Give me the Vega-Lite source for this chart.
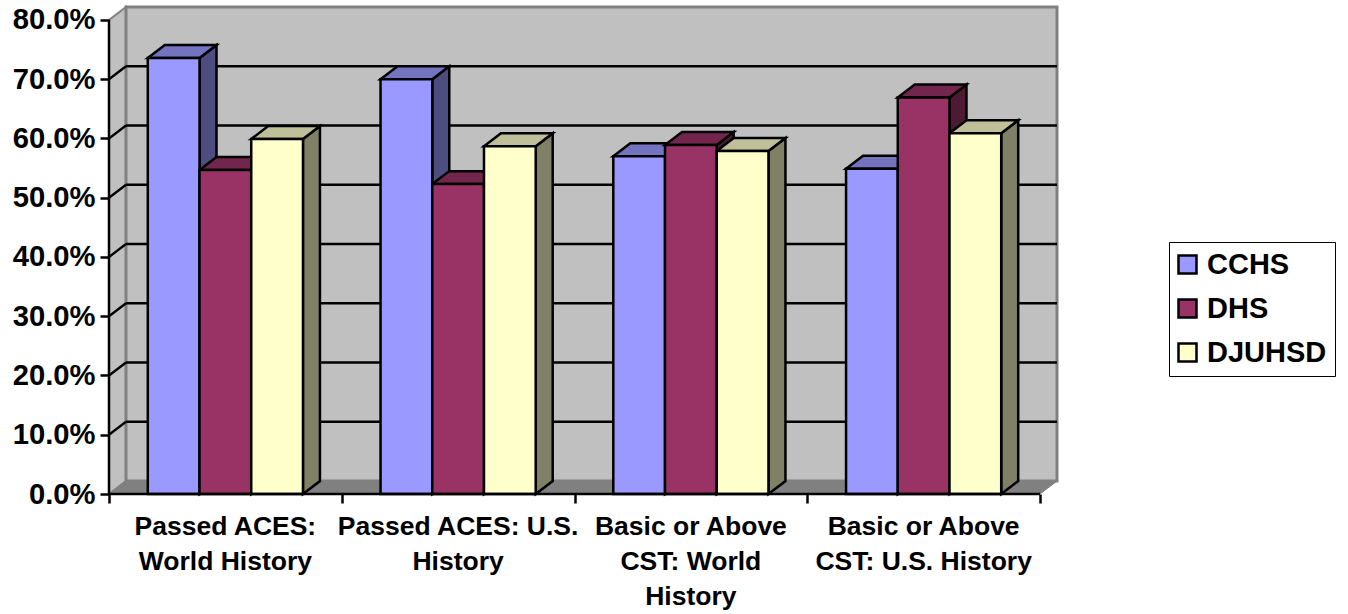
{
"$schema":"https://vega.github.io/schema/vega-lite/v6.json",
"width":949,"height":487,
"autosize":"none",
"padding":{"left":109,"top":7,"right":290,"bottom":120},
"background":"white",
"config":{"view":{"stroke":null},"font":"Liberation Sans"},
"data":{"values":[
{"category":"Passed ACES:\nWorld History","series":"CCHS","value":0.736},
{"category":"Passed ACES:\nWorld History","series":"DHS","value":0.547},
{"category":"Passed ACES:\nWorld History","series":"DJUHSD","value":0.599},
{"category":"Passed ACES: U.S.\nHistory","series":"CCHS","value":0.700},
{"category":"Passed ACES: U.S.\nHistory","series":"DHS","value":0.523},
{"category":"Passed ACES: U.S.\nHistory","series":"DJUHSD","value":0.587},
{"category":"Basic or Above\nCST: World\nHistory","series":"CCHS","value":0.570},
{"category":"Basic or Above\nCST: World\nHistory","series":"DHS","value":0.589},
{"category":"Basic or Above\nCST: World\nHistory","series":"DJUHSD","value":0.579},
{"category":"Basic or Above\nCST: U.S. History","series":"CCHS","value":0.549},
{"category":"Basic or Above\nCST: U.S. History","series":"DHS","value":0.669},
{"category":"Basic or Above\nCST: U.S. History","series":"DJUHSD","value":0.609}
]},
"transform":[
{"calculate":"indexof(['Passed ACES:\\nWorld History','Passed ACES: U.S.\\nHistory','Basic or Above\\nCST: World\\nHistory','Basic or Above\\nCST: U.S. History'],datum.category)","as":"i"},
{"calculate":"indexof(['CCHS','DHS','DJUHSD'],datum.series)","as":"s"},
{"calculate":"datum.i+(0.75+datum.s)/4.5","as":"l"},
{"calculate":"datum.l+1/4.5","as":"r"}
],
"encoding":{
"x":{"field":"px","type":"quantitative","scale":{"domain":[0,4.0773],"nice":false,"zero":false},"title":null,
"axis":{"values":[0,1,2,3,4],"labels":false,"domain":false,"grid":false,"ticks":true,"tickSize":9,"tickWidth":2.5,"tickColor":"black","title":null,"zindex":1}},
"y":{"field":"py","type":"quantitative","stack":null,"scale":{"domain":[0,0.8219],"nice":false,"zero":false},"title":null,
"axis":{"values":[0,0.1,0.2,0.3,0.4,0.5,0.6,0.7,0.8],"format":".1%","domain":false,"grid":false,"tickSize":9,"tickWidth":2.5,"tickColor":"black","labelFont":"Liberation Sans","labelFontWeight":"bold","labelFontSize":29.2,"labelColor":"black","labelPadding":5,"title":null,"zindex":1}}
},
"layer":[
{"data":{"values":[{"edge":0},{"edge":1}]},
"transform":[{"calculate":"datum.edge*0.073","as":"px"},{"calculate":"datum.edge*0.0219","as":"py"},{"calculate":"0.8+datum.edge*0.0219","as":"py2"}],
"mark":{"type":"area","orient":"vertical","fill":"#C0C0C0","stroke":"#808080","strokeWidth":2},
"encoding":{"y2":{"field":"py2"}}},
{"data":{"values":[{"part":"wall"}]},
"transform":[{"calculate":"0.073","as":"px"},{"calculate":"4.073","as":"px2"},{"calculate":"0.0219","as":"py"},{"calculate":"0.8219","as":"py2"}],
"mark":{"type":"rect","fill":"#C0C0C0","stroke":"#808080","strokeWidth":3},
"encoding":{"x2":{"field":"px2"},"y2":{"field":"py2"}}},
{"data":{"values":[{"corner":0},{"corner":1},{"corner":2},{"corner":3}]},
"transform":[
{"calculate":"datum.corner==0?0:datum.corner==1?0.073:datum.corner==2?4:4.073","as":"px"},
{"calculate":"datum.corner==3?0.0219:0","as":"py"},
{"calculate":"datum.corner==0?0:0.0219","as":"py2"}],
"mark":{"type":"area","orient":"vertical","fill":"#808080","stroke":"#808080","strokeWidth":1},
"encoding":{"y2":{"field":"py2"}}},
{"data":{"values":[{"tick":0.1},{"tick":0.2},{"tick":0.3},{"tick":0.4},{"tick":0.5},{"tick":0.6},{"tick":0.7}]},
"transform":[{"calculate":"0.073","as":"px"},{"calculate":"4.073","as":"px2"},{"calculate":"datum.tick+0.0219","as":"py"}],
"mark":{"type":"rule","color":"black","strokeWidth":2.3},
"encoding":{"x2":{"field":"px2"}}},
{"data":{"values":[{"tick":0.1},{"tick":0.2},{"tick":0.3},{"tick":0.4},{"tick":0.5},{"tick":0.6},{"tick":0.7}]},
"transform":[{"calculate":"0","as":"px"},{"calculate":"0.073","as":"px2"},{"calculate":"datum.tick","as":"py"},{"calculate":"datum.tick+0.0219","as":"py2"}],
"mark":{"type":"rule","color":"black","strokeWidth":2.3},
"encoding":{"x2":{"field":"px2"},"y2":{"field":"py2"}}},
{"transform":[
{"calculate":"[0,1]","as":"k"},{"flatten":["k"]},
{"calculate":"datum.r+datum.k*0.073","as":"px"},
{"calculate":"datum.k*0.0219","as":"py"},
{"calculate":"datum.value+datum.k*0.0219","as":"py2"}],
"mark":{"type":"area","orient":"vertical","stroke":"black","strokeWidth":2.5},
"encoding":{"y2":{"field":"py2"},"detail":{"field":"category"},
"color":{"field":"series","type":"nominal","legend":null,"scale":{"domain":["CCHS","DHS","DJUHSD"],"range":["#4D4D80","#4D1A33","#808066"]}}}},
{"transform":[
{"calculate":"[0,1,2,3]","as":"k"},{"flatten":["k"]},
{"calculate":"datum.k==0?datum.l:datum.k==1?datum.l+0.073:datum.k==2?datum.r:datum.r+0.073","as":"px"},
{"calculate":"datum.k==3?datum.value+0.0219:datum.value","as":"py"},
{"calculate":"datum.k==0?datum.value:datum.value+0.0219","as":"py2"}],
"mark":{"type":"area","orient":"vertical","stroke":"black","strokeWidth":2.5},
"encoding":{"y2":{"field":"py2"},"detail":{"field":"category"},
"color":{"field":"series","type":"nominal","legend":null,"scale":{"domain":["CCHS","DHS","DJUHSD"],"range":["#7373BF","#73264D","#BFBF99"]}}}},
{"transform":[{"calculate":"datum.l","as":"px"},{"calculate":"datum.r","as":"px2"},{"calculate":"datum.value","as":"py"},{"calculate":"0","as":"py2"}],
"mark":{"type":"rect","stroke":"black","strokeWidth":2.5},
"encoding":{"x2":{"field":"px2"},"y2":{"field":"py2"},
"color":{"field":"series","type":"nominal","scale":{"domain":["CCHS","DHS","DJUHSD"],"range":["#9999FF","#993366","#FFFFCC"]},
"legend":{"title":null,"orient":"none","legendX":1060,"legendY":235,"symbolType":"square","symbolSize":324,"symbolStrokeColor":"black","symbolStrokeWidth":2.5,"symbolOffset":-4,"labelFont":"Liberation Sans","labelFontWeight":"bold","labelFontSize":29,"labelColor":"black","labelOffset":5,"rowPadding":14,"padding":8,"fillColor":"white","strokeColor":"black","labelLimit":200}}}},
{"data":{"values":[{"axisLine":"left"},{"axisLine":"bottom"}]},
"transform":[{"calculate":"0","as":"px"},{"calculate":"datum.axisLine=='left'?0:4","as":"px2"},{"calculate":"0","as":"py"},{"calculate":"datum.axisLine=='left'?0.8:0","as":"py2"}],
"mark":{"type":"rule","color":"black","strokeWidth":2.5},
"encoding":{"x2":{"field":"px2"},"y2":{"field":"py2"}}},
{"transform":[{"filter":"datum.series=='CCHS'"},{"calculate":"datum.i+0.5","as":"px"},{"calculate":"0","as":"py"}],
"mark":{"type":"text","font":"Liberation Sans","fontWeight":"bold","fontSize":26.5,"color":"black","lineBreak":"\n","lineHeight":35,"baseline":"top","align":"center","dy":20},
"encoding":{"text":{"field":"category"}}}
],
"resolve":{"scale":{"color":"independent"}}
}
